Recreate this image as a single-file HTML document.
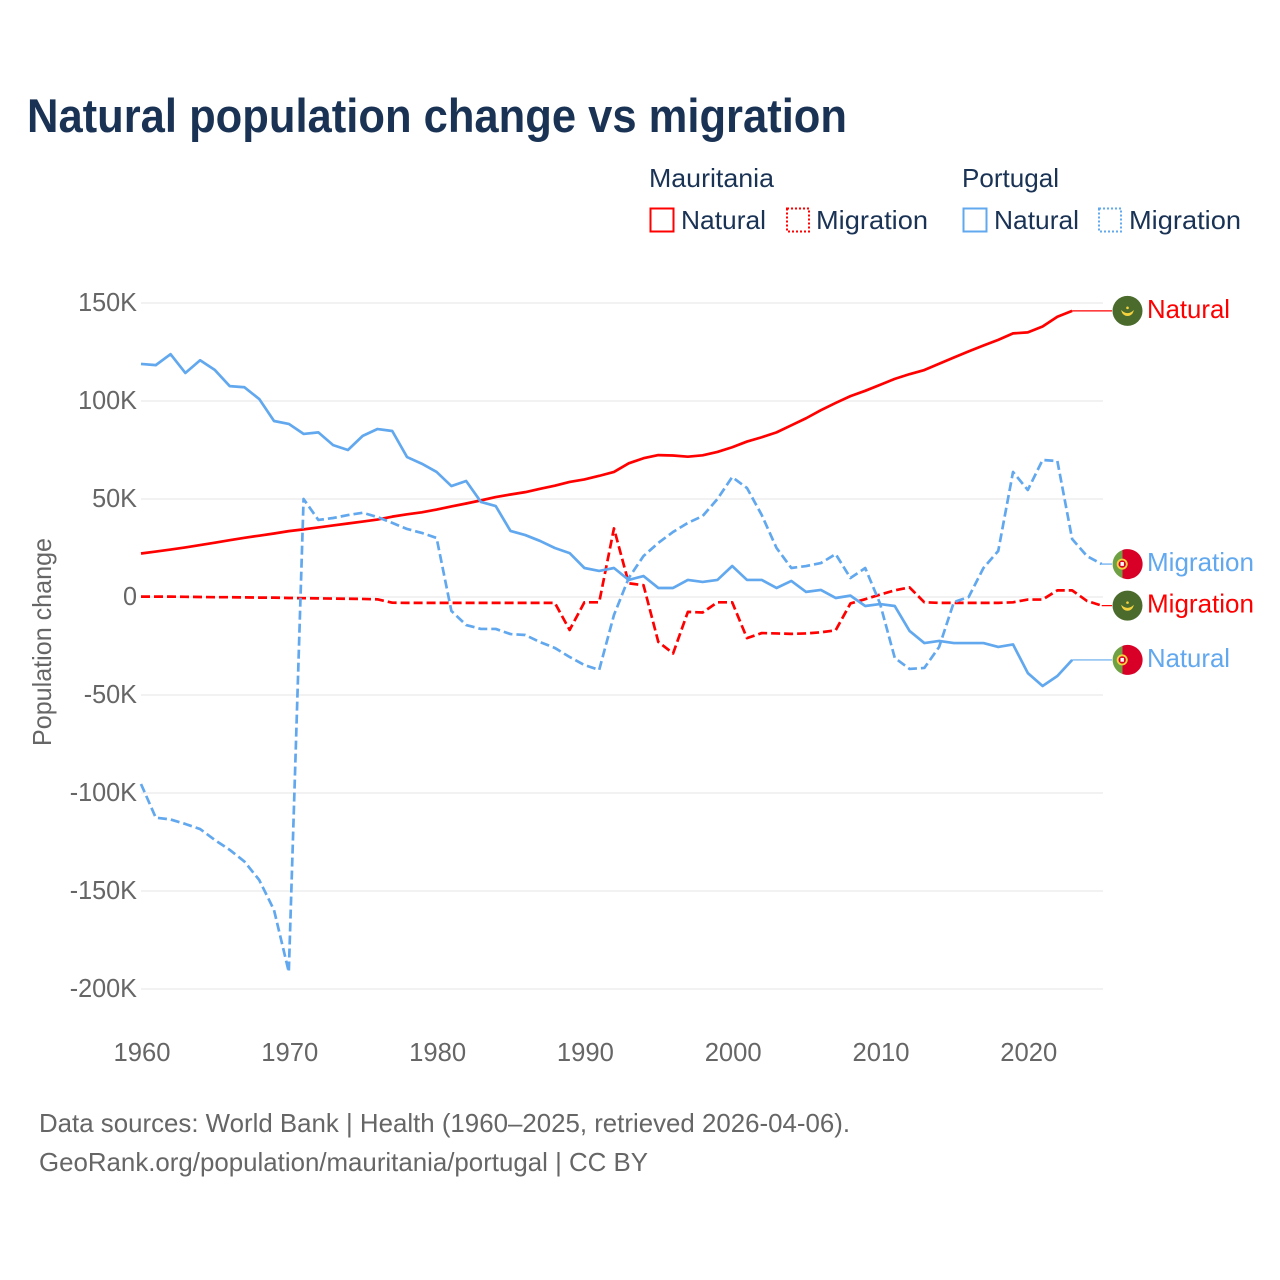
<!DOCTYPE html>
<html lang="en">
<head>
<meta charset="utf-8">
<title>Natural population change vs migration</title>
<style>
html,body{margin:0;padding:0;background:#fff;width:1280px;height:1280px;overflow:hidden}
svg{display:block}
text{font-family:"Liberation Sans",sans-serif}
</style>
</head>
<body>
<svg id="chart" xmlns="http://www.w3.org/2000/svg" width="1280" height="1280" viewBox="0 0 1280 1280">
  <rect x="0" y="0" width="1280" height="1280" fill="#fff"/>
  <text x="27" y="132" font-size="47" font-weight="700" fill="#1a3355" textLength="820" lengthAdjust="spacingAndGlyphs">Natural population change vs migration</text>

  <g font-size="26" fill="#1a3355">
    <text x="649" y="187" textLength="125" lengthAdjust="spacingAndGlyphs">Mauritania</text>
    <text x="962" y="187" textLength="97" lengthAdjust="spacingAndGlyphs">Portugal</text>
    <rect x="650.5" y="208.5" width="23" height="23" fill="none" stroke="#ff0000" stroke-width="2"/>
    <text x="681" y="229" textLength="85" lengthAdjust="spacingAndGlyphs">Natural</text>
    <rect x="787" y="208.5" width="22" height="23" fill="none" stroke="#ff0000" stroke-width="2" stroke-dasharray="2 2"/>
    <text x="816" y="229" textLength="112" lengthAdjust="spacingAndGlyphs">Migration</text>
    <rect x="963.5" y="208.5" width="23" height="23" fill="none" stroke="#62a8ee" stroke-width="2"/>
    <text x="994" y="229" textLength="85" lengthAdjust="spacingAndGlyphs">Natural</text>
    <rect x="1099" y="208.5" width="22" height="23" fill="none" stroke="#62a8ee" stroke-width="2" stroke-dasharray="2 2"/>
    <text x="1129" y="229" textLength="112" lengthAdjust="spacingAndGlyphs">Migration</text>
  </g>

  <g id="grid"></g>
  <g id="yticks"></g>
  <g id="xticks"></g>
  <text transform="translate(51,642) rotate(-90)" text-anchor="middle" font-size="26" fill="#666" textLength="208" lengthAdjust="spacingAndGlyphs">Population change</text>
  <g id="series"></g>
  <g id="endlabels"></g>

  <g font-size="26" fill="#666">
    <text x="39" y="1132" textLength="811" lengthAdjust="spacingAndGlyphs">Data sources: World Bank | Health (1960–2025, retrieved 2026-04-06).</text>
    <text x="39" y="1171" textLength="609" lengthAdjust="spacingAndGlyphs">GeoRank.org/population/mauritania/portugal | CC BY</text>
  </g>
</svg>
<script>
const startYear = 1960;
const yTickValues = [150, 100, 50, 0, -50, -100, -150, -200];
const yTickLabels = ['150K', '100K', '50K', '0', '-50K', '-100K', '-150K', '-200K'];
const xTickYears = [1960, 1970, 1980, 1990, 2000, 2010, 2020];
const xTickLabels = ['1960', '1970', '1980', '1990', '2000', '2010', '2020'];

// Values in thousands, one per year beginning 1960
const mauritaniaNatural = [22.2,23.2,24.2,25.3,26.5,27.7,29,30.2,31.3,32.4,33.6,34.5,35.5,36.5,37.5,38.5,39.5,41,42.2,43.2,44.6,46.2,47.7,49.3,51,52.3,53.5,55.2,56.8,58.7,60,61.8,63.8,68.2,70.8,72.4,72.2,71.6,72.3,74,76.4,79.3,81.5,84,87.6,91.2,95.3,99,102.5,105.2,108.2,111.3,113.7,115.8,119,122.2,125.3,128.3,131.2,134.5,135,138,143,146];
const mauritaniaMigration = [0.2,0.2,0.2,0.1,0,-0.1,-0.1,-0.2,-0.3,-0.3,-0.5,-0.6,-0.7,-0.8,-0.9,-1,-1.2,-2.9,-3,-3,-3,-3,-3,-3,-3,-3,-3,-3,-3,-16.8,-2.7,-2.7,35,7,6,-22.9,-28.8,-7.6,-7.9,-2.7,-2.7,-21,-18.4,-18.6,-18.8,-18.6,-18,-17,-3.3,-1.1,1.2,3.4,4.9,-2.7,-3,-3,-3,-3,-3,-2.7,-1.3,-1.3,3.4,3.4,-2,-4.4];
const portugalNatural = [118.9,118.3,123.9,114.3,120.8,115.8,107.6,107,101,89.8,88.3,83.2,84,77.5,75,82.2,85.7,84.7,71.4,68,63.8,56.6,59.2,48.5,46.4,33.7,31.6,28.6,25,22.4,14.8,13.3,14.8,8.7,10.7,4.6,4.6,8.7,7.7,8.7,15.8,8.7,8.7,4.6,8.2,2.6,3.6,-0.5,0.7,-4.6,-3.6,-4.6,-17.3,-23.5,-22.4,-23.5,-23.5,-23.5,-25.5,-24.2,-38.8,-45.4,-40.3,-32.1];
const portugalMigration = [-95.4,-112.6,-113.5,-115.8,-118.4,-124,-129,-135,-144.4,-159.7,-191.3,50,39.3,40.3,41.8,43,40.8,37.8,34.7,32.7,30.1,-7.1,-14.3,-16.3,-16.3,-18.9,-19.4,-23,-26,-30.6,-34.7,-37.2,-9.2,9.7,20.9,27.6,33.2,37.8,41.3,50,61.2,55.6,41.8,25,14.8,15.8,17.3,21.9,9.7,14.8,-3.3,-31.1,-36.7,-36.2,-25.5,-2.6,0,14.8,23.5,63.8,54.6,69.9,69.4,29.6,20.9,16.8];

const NS = 'http://www.w3.org/2000/svg';
const RED = '#ff0000';
const BLUE = '#62a8ee';
const GREY = '#666666';

function xScale(year) { return 141 + (year - 1960) * 14.78; }
function yScale(value) { return 597 - value * 1.96; }

function make(tag, attrs, parent) {
  const node = document.createElementNS(NS, tag);
  for (const key in attrs) node.setAttribute(key, attrs[key]);
  parent.appendChild(node);
  return node;
}

const gridLayer = document.getElementById('grid');
const yLayer = document.getElementById('yticks');
const xLayer = document.getElementById('xticks');
const seriesLayer = document.getElementById('series');
const endLayer = document.getElementById('endlabels');

yTickValues.forEach((value, i) => {
  const line = make('line', {x1: 141, x2: 1103, y1: yScale(value), y2: yScale(value), stroke: '#eeeeee', 'stroke-width': 1.5}, gridLayer);
  
  
  const label = make('text', {x: 137, y: yScale(value) + 8, 'text-anchor': 'end', 'font-size': 26, fill: GREY}, yLayer);
  label.textContent = yTickLabels[i];
  label.setAttribute('textLength', (label.getComputedTextLength() * 0.97).toFixed(1));
  label.setAttribute('lengthAdjust', 'spacingAndGlyphs');
  
  
});

xTickYears.forEach((year, i) => {
  const label = make('text', {x: xScale(year) + 1, y: 1061, 'text-anchor': 'middle', 'font-size': 26, fill: GREY, textLength: 57, lengthAdjust: 'spacingAndGlyphs'}, xLayer);
  label.textContent = xTickLabels[i];
  
  
});

function drawLine(values, color, dashed) {
  const d = values.map((v, i) => (i ? 'L' : 'M') + xScale(startYear + i).toFixed(2) + ' ' + yScale(v).toFixed(2)).join(' ');
  const attrs = {d: d, fill: 'none', stroke: color, 'stroke-width': 2.7, 'stroke-linejoin': 'round'};
  if (dashed) attrs['stroke-dasharray'] = '9 4';
  return make('path', attrs, seriesLayer);
}

function drawLeader(values, color) {
  const lastX = xScale(startYear + values.length - 1);
  const lastY = yScale(values[values.length - 1]);
  return make('line', {x1: lastX, x2: 1112, y1: lastY, y2: lastY, stroke: color, 'stroke-width': 1.2}, seriesLayer);
}

function drawMauritaniaFlag(cy) {
  const g = make('g', {transform: 'translate(1127.5,' + cy.toFixed(2) + ')'}, endLayer);
  make('circle', {cx: 0, cy: 0, r: 15, fill: '#4a6b2c'}, g);
  make('path', {d: 'M-5.5 0.5 A5.7 5.7 0 0 0 5.5 0.5 A8 8 0 0 1 -5.5 0.5 Z', fill: '#f5d33f', stroke: '#f5d33f', 'stroke-width': 0.9}, g);
  make('circle', {cx: 0, cy: -3, r: 1.3, fill: '#f5d33f'}, g);
  return g;
}

function drawPortugalFlag(cy) {
  const g = make('g', {transform: 'translate(1127.5,' + cy.toFixed(2) + ')'}, endLayer);
  make('path', {d: 'M-5 -14.1 A15 15 0 0 0 -5 14.1 Z', fill: '#6fa144'}, g);
  make('path', {d: 'M-5 -14.1 A15 15 0 1 1 -5 14.1 Z', fill: '#d80027'}, g);
  make('circle', {cx: -5.3, cy: 0, r: 4.6, fill: '#d80027', stroke: '#f5d33f', 'stroke-width': 1.8}, g);
  make('rect', {x: -7, y: -2, width: 3.4, height: 3.8, fill: '#ffffff'}, g);
  return g;
}

function drawEndLabel(values, text, color) {
  const label = make('text', {x: 1147, y: yScale(values[values.length - 1]) + 7, 'font-size': 26, fill: color, textLength: text === 'Natural' ? 83 : 107, lengthAdjust: 'spacingAndGlyphs'}, endLayer);
  label.textContent = text;
  return label;
}

const lineMN = drawLine(mauritaniaNatural, RED, false);


const lineMM = drawLine(mauritaniaMigration, RED, true);


const linePN = drawLine(portugalNatural, BLUE, false);


const linePM = drawLine(portugalMigration, BLUE, true);



const leadMN = drawLeader(mauritaniaNatural, RED);


const leadMM = drawLeader(mauritaniaMigration, RED);


const leadPN = drawLeader(portugalNatural, BLUE);


const leadPM = drawLeader(portugalMigration, BLUE);



const flagMN = drawMauritaniaFlag(yScale(mauritaniaNatural[mauritaniaNatural.length - 1]));


const flagMM = drawMauritaniaFlag(yScale(mauritaniaMigration[mauritaniaMigration.length - 1]));


const flagPN = drawPortugalFlag(yScale(portugalNatural[portugalNatural.length - 1]));


const flagPM = drawPortugalFlag(yScale(portugalMigration[portugalMigration.length - 1]));



const endMN = drawEndLabel(mauritaniaNatural, 'Natural', RED);


const endMM = drawEndLabel(mauritaniaMigration, 'Migration', RED);


const endPN = drawEndLabel(portugalNatural, 'Natural', BLUE);


const endPM = drawEndLabel(portugalMigration, 'Migration', BLUE);


</script>
</body>
</html>
